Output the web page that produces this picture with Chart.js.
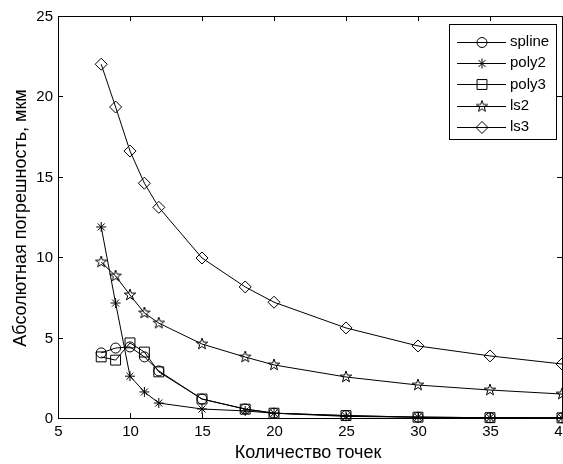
<!DOCTYPE html>
<html>
<head>
<meta charset="utf-8">
<script src="https://cdn.jsdelivr.net/npm/chart.js@4/dist/chart.umd.min.js"></script>
<style>
  html, body { margin: 0; padding: 0; background: #fff; }
  #wrap { width: 563px; height: 464px; }
</style>
</head>
<body>
<div id="wrap"><canvas id="chart" width="563" height="464"></canvas></div>
<script>
'use strict';

// Данные
const pointsCount = [8, 9, 10, 11, 12, 15, 18, 20, 25, 30, 35, 40];
const splineErr = [4.05, 4.35, 4.42, 3.8, 2.93, 1.18, 0.56, 0.3, 0.15, 0.05, 0.02, 0.01];
const poly2Err  = [11.88, 7.15, 2.6, 1.62, 0.93, 0.56, 0.44, 0.3, 0.1, 0.05, 0.02, 0.01];
const poly3Err  = [3.8, 3.6, 4.67, 4.1, 2.87, 1.18, 0.55, 0.3, 0.15, 0.05, 0.02, 0.01];
const ls2Err    = [9.7, 8.83, 7.65, 6.53, 5.9, 4.6, 3.79, 3.3, 2.55, 2.05, 1.74, 1.49];
const ls3Err    = [22.0, 19.34, 16.6, 14.6, 13.1, 9.95, 8.15, 7.2, 5.6, 4.48, 3.86, 3.36];
const seriesNames = ['spline', 'poly2', 'poly3', 'ls2', 'ls3'];
const xTicks = [5, 10, 15, 20, 25, 30, 35, 40];
const yTicks = [0, 5, 10, 15, 20, 25];

const FONT = "'Liberation Sans', Arial, sans-serif";

// пентаграмма для ls2 (в Chart.js такой формы нет)
function makePentagram(r) {
    const size = Math.ceil(r * 2 + 2);
    const c = document.createElement('canvas');
    c.width = size;
    c.height = size;
    const g = c.getContext('2d');
    const cx = size / 2, cy = size / 2;
    g.beginPath();
    for (let i = 0; i < 10; i++) {
        const rr = i % 2 === 0 ? r : r * 0.4;
        const a = -Math.PI / 2 + i * Math.PI / 5;
        const px = cx + rr * Math.cos(a), py = cy + rr * Math.sin(a);
        if (i === 0) g.moveTo(px, py); else g.lineTo(px, py);
    }
    g.closePath();
    g.strokeStyle = '#000';
    g.lineWidth = 1;
    g.stroke();
    return c;
}

const pentagram = makePentagram(6);

const styles = [
    { pointStyle: 'circle', radius: 5 },
    { pointStyle: 'star', radius: 5 },
    { pointStyle: 'rect', radius: 7 },
    { pointStyle: pentagram, radius: 6 },
    { pointStyle: 'rectRot', radius: 6 }
];

const seriesValues = [splineErr, poly2Err, poly3Err, ls2Err, ls3Err];

const datasets = seriesValues.map((vals, i) => ({
    label: seriesNames[i],
    data: pointsCount.map((x, j) => ({ x: x, y: vals[j] })),
    borderColor: '#000',
    borderWidth: 1,
    backgroundColor: 'rgba(0,0,0,0)',
    pointStyle: styles[i].pointStyle,
    pointRadius: styles[i].radius,
    pointBorderColor: '#000',
    pointBackgroundColor: 'rgba(0,0,0,0)',
    pointBorderWidth: 1,
    tension: 0,
    fill: false,
    clip: false
}));

function drawMarker(ctx, style, x, y) {
    if (Chart.helpers && Chart.helpers.drawPoint) {
        ctx.fillStyle = 'rgba(0,0,0,0)';
        Chart.helpers.drawPoint(ctx, {
            pointStyle: style.pointStyle,
            radius: style.radius,
            rotation: 0,
            borderWidth: 1
        }, x, y);
    }
}

// рамка, засечки внутрь, подписи, легенда — в стиле MATLAB
const matlabFrame = {
    id: 'matlabFrame',
    afterDraw(chart) {
        const ctx = chart.ctx;
        const a = chart.chartArea;
        const xs = chart.scales.x, ys = chart.scales.y;
        const tick = 5;
        ctx.save();
        ctx.strokeStyle = '#000';
        ctx.lineWidth = 1;
        ctx.strokeRect(Math.round(a.left) + 0.5, Math.round(a.top) + 0.5,
            Math.round(a.right - a.left), Math.round(a.bottom - a.top));

        ctx.fillStyle = '#000';
        ctx.font = '15px ' + FONT;
        ctx.textAlign = 'center';
        ctx.textBaseline = 'top';
        xTicks.forEach(v => {
            const px = Math.round(xs.getPixelForValue(v)) + 0.5;
            ctx.beginPath();
            ctx.moveTo(px, a.bottom); ctx.lineTo(px, a.bottom - tick);
            ctx.moveTo(px, a.top); ctx.lineTo(px, a.top + tick);
            ctx.stroke();
            ctx.fillText(String(v), px, a.bottom + 6);
        });
        ctx.textAlign = 'right';
        ctx.textBaseline = 'middle';
        yTicks.forEach(v => {
            const py = Math.round(ys.getPixelForValue(v)) + 0.5;
            ctx.beginPath();
            ctx.moveTo(a.left, py); ctx.lineTo(a.left + tick, py);
            ctx.moveTo(a.right, py); ctx.lineTo(a.right - tick, py);
            ctx.stroke();
            ctx.fillText(String(v), a.left - 5, py);
        });

        // подписи осей
        ctx.font = '18px ' + FONT;
        ctx.textAlign = 'center';
        ctx.textBaseline = 'middle';
        ctx.fillText('Количество точек', 308, 453);
        ctx.save();
        ctx.translate(21, 218);
        ctx.rotate(-Math.PI / 2);
        ctx.fillText('Абсолютная погрешность, мкм', 0, 0);
        ctx.restore();

        // легенда
        const lx = 449, ly = 24, lw = 107, lh = 115;
        ctx.fillStyle = '#fff';
        ctx.fillRect(lx, ly, lw, lh);
        ctx.strokeRect(lx + 0.5, ly + 0.5, lw, lh);
        ctx.font = '15px ' + FONT;
        ctx.textAlign = 'left';
        seriesNames.forEach((name, i) => {
            const cy = 42 + i * 21.2;
            ctx.strokeStyle = '#000';
            ctx.beginPath();
            ctx.moveTo(457, Math.round(cy) + 0.5);
            ctx.lineTo(506, Math.round(cy) + 0.5);
            ctx.stroke();
            drawMarker(ctx, styles[i], 482, Math.round(cy) + 0.5);
            ctx.fillStyle = '#000';
            ctx.fillText(name, 510, cy);
        });
        ctx.restore();
    }
};

new Chart(document.getElementById('chart'), {
    type: 'line',
    data: { datasets: datasets },
    options: {
        responsive: false,
        animation: false,
        layout: { autoPadding: false, padding: { top: 16, right: 1, left: 0, bottom: 0 } },
        scales: {
            x: {
                type: 'linear',
                min: 5,
                max: 40,
                grid: { display: false, drawTicks: false },
                border: { display: false },
                ticks: { display: false },
                afterFit: s => { s.height = 46; }
            },
            y: {
                type: 'linear',
                min: 0,
                max: 25,
                grid: { display: false, drawTicks: false },
                border: { display: false },
                ticks: { display: false },
                afterFit: s => { s.width = 58; }
            }
        },
        plugins: {
            legend: { display: false },
            tooltip: { enabled: false }
        }
    },
    plugins: [matlabFrame]
});
</script>
</body>
</html>
